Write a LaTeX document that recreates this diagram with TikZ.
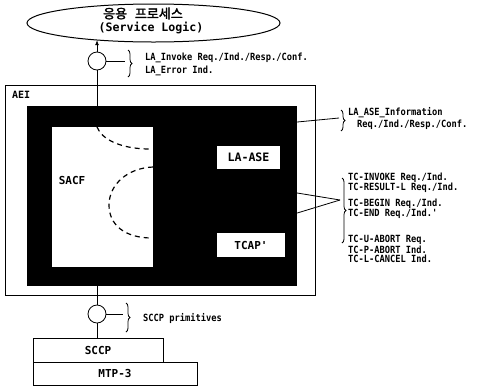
\documentclass[tikz,border=0pt]{standalone}
\usepackage{fontspec}
\newfontfamily\lab{DejaVu Sans Mono}
\newfontfamily\labn[FakeStretch=0.88]{DejaVu Sans Mono}
\newfontfamily\kr[AutoFakeBold=2]{Noto Sans CJK KR}
\usetikzlibrary{shapes.geometric,decorations.pathreplacing,arrows.meta}
\begin{document}
\begin{tikzpicture}[x=1pt,y=-1pt,
  note/.style={anchor=west,inner sep=0pt,font=\labn\bfseries\fontsize{9.9}{10}\selectfont},
  lbl/.style={inner sep=0pt,font=\lab\bfseries\fontsize{11}{12}\selectfont},
  frame/.style={draw,line width=0.8pt},
  whitebox/.style={fill=white,draw=none},
  tick/.style={line width=0.8pt},
  bracestyle/.style={line width=0.8pt,decorate,decoration={brace,amplitude=4pt}},
  dashcurve/.style={line width=1.2pt,dash pattern=on 5pt off 4pt},
  port/.style={circle,draw,line width=0.8pt,fill=white,minimum size=18pt,inner sep=0pt}]
\useasboundingbox (0,0) rectangle (486,389);
% service logic ellipse
\node[ellipse,draw,line width=1pt,minimum width=253pt,minimum height=38pt,inner sep=0pt] (svc) at (153.5,23) {};
\node[inner sep=0pt,font=\kr\bfseries\fontsize{13}{14}\selectfont] (svck) at (143,13.5) {응용\hspace{0.6em}프로세스};
\node[inner sep=0pt,font=\lab\bfseries\fontsize{11.6}{12}\selectfont] (svce) at (151,28) {(Service Logic)};
% AEI frame
\node[frame,minimum width=310pt,minimum height=210pt,inner sep=0pt] (aei) at (160,190) {};
\node[lbl,anchor=west,font=\lab\bfseries\fontsize{10}{11}\selectfont] (aeil) at (12,95) {AEI};
\node[fill=black,minimum width=270pt,minimum height=180pt,inner sep=0pt] (blk) at (162,196) {};
\node[whitebox,minimum width=101pt,minimum height=140pt,inner sep=0pt] (sacf) at (102.5,197) {};
\node[lbl] (sacft) at (72,180) {SACF};
\node[whitebox,minimum width=63pt,minimum height=23pt,inner sep=0pt,font=\lab\bfseries\fontsize{11.6}{12}\selectfont] (lase) at (248.5,157.5) {LA-ASE};
\node[whitebox,minimum width=68pt,minimum height=24pt,inner sep=0pt,font=\lab\bfseries\fontsize{11}{12}\selectfont] (tcap) at (251,245) {TCAP'};
% dashed curves in SACF
\draw[dashcurve] (97,127) .. controls (102,140) and (122,149) .. (150,149);
\draw[dashcurve] (153,167) .. controls (127,168) and (109,185) .. (109,205) .. controls (109,225) and (125,238) .. (152,238);
% top interface
\coordinate (ent) at (97,106);
\node[port] (c1) at (97,61) {};
\draw[line width=0.8pt] (ent) -- (c1);
\draw[line width=0.8pt,-{Latex[length=5pt,width=4pt]}] (c1) -- (c1 |- svc.196.7);
\coordinate (b1t) at (125,61);
\draw[tick] (c1) -- (b1t);
\draw[bracestyle] (128,50) -- (128,77);
\node[note] (n1a) at (145,58) {LA\_Invoke Req./Ind./Resp./Conf.};
\node[note] (n1b) at (145,71) {LA\_Error Ind.};
% right annotations
\coordinate (b2t) at (339,118);
\draw[tick] (blk.east |- 0,122) -- (b2t);
\draw[bracestyle] (341,110) -- (341,131);
\node[note] (n2a) at (348,113) {LA\_ASE\_Information};
\node[note] (n2b) at (357,125) {Req./Ind./Resp./Conf.};
\coordinate (b3t) at (340,200);
\draw[tick] (blk.east |- 0,193) -- (b3t);
\draw[tick] (blk.east |- 0,213) -- (b3t);
\draw[bracestyle] (342,178) -- (342,243);
\node[note] (n3a) at (348,178) {TC-INVOKE Req./Ind.};
\node[note] (n3b) at (348,187.5) {TC-RESULT-L Req./Ind.};
\node[note] (n3c) at (348,204) {TC-BEGIN Req./Ind.};
\node[note] (n3d) at (348,213.5) {TC-END Req./Ind.'};
\node[note] (n3e) at (348,240) {TC-U-ABORT Req.};
\node[note] (n3f) at (348,249.5) {TC-P-ABORT Ind.};
\node[note] (n3g) at (348,259) {TC-L-CANCEL Ind.};
% bottom
\node[frame,minimum width=164pt,minimum height=23pt,inner sep=0pt,font=\lab\bfseries\fontsize{11}{12}\selectfont] (mtp) at (115,373.5) {MTP-3};
\node[frame,minimum width=130pt,minimum height=24pt,inner sep=0pt,font=\lab\bfseries\fontsize{11}{12}\selectfont] (sccp) at (98,350) {SCCP};
\coordinate (ext) at (97,286);
\node[port] (c2) at (97,314) {};
\draw[line width=0.8pt] (ext) -- (c2);
\draw[line width=0.8pt] (c2) -- (c2 |- sccp.north);
\coordinate (b4t) at (123,314);
\draw[tick] (c2) -- (b4t);
\draw[bracestyle] (126,303) -- (126,332);
\node[note] (n4) at (143,318) {SCCP primitives};
\end{tikzpicture}
\end{document}
